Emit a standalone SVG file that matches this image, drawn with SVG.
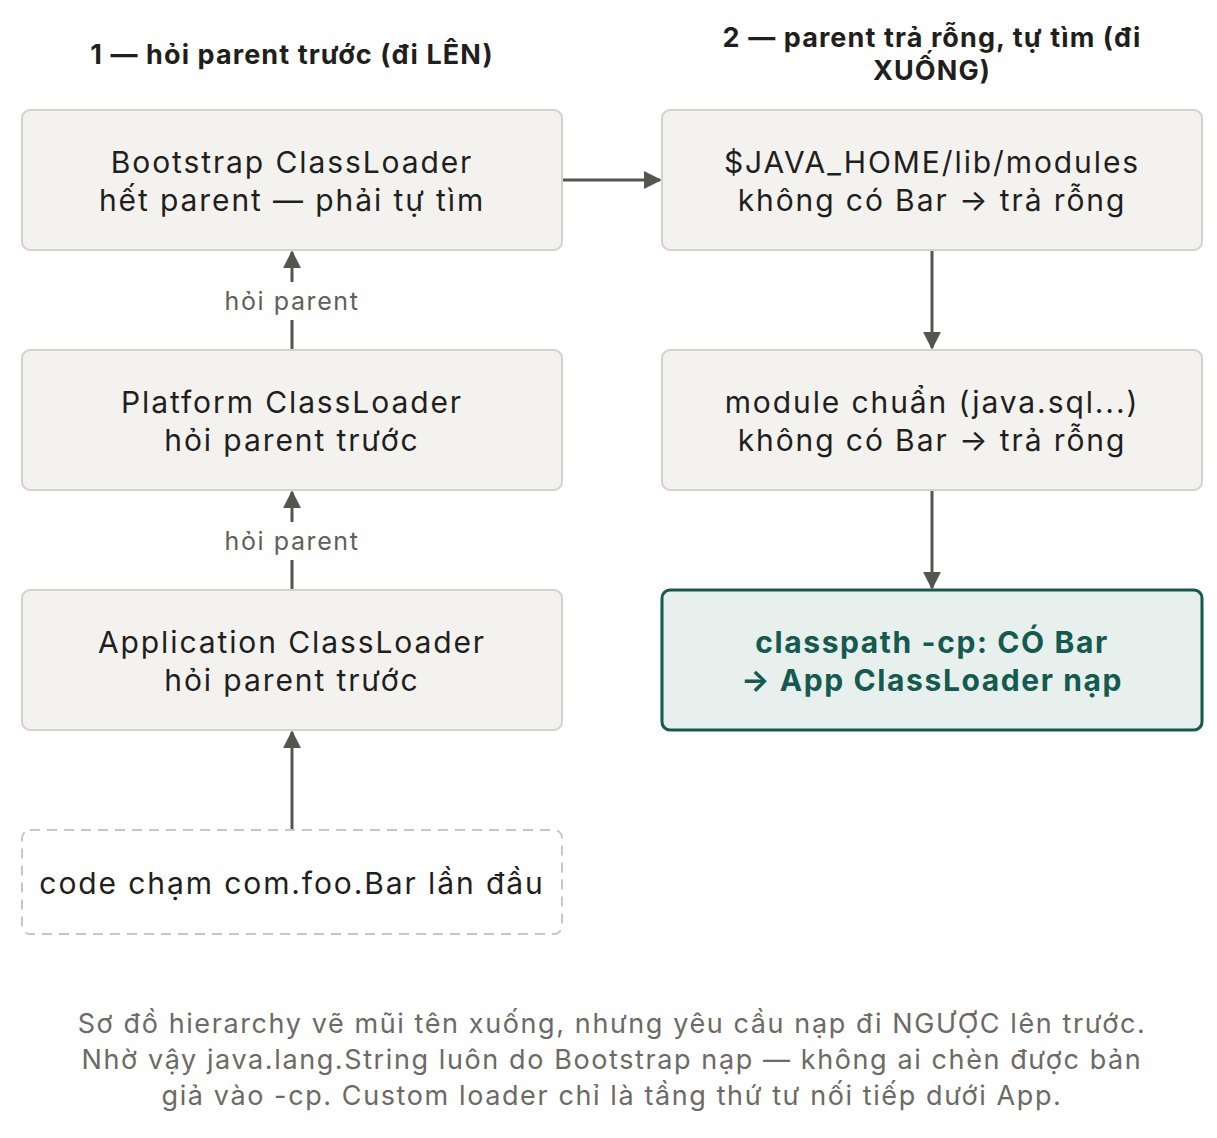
<svg xmlns="http://www.w3.org/2000/svg" width="1217" height="1138" viewBox="0 0 1217 1138">
<style>
.box{fill:#f3f2ee;stroke:#d2d1cc;stroke-width:2}
.t{font-family:Inter,"Noto Sans",sans-serif;font-size:30px;letter-spacing:1.9px;fill:#1f1f1d;text-anchor:middle}
.h{font-family:Inter,"Noto Sans",sans-serif;font-size:27px;letter-spacing:1.1px;font-weight:700;fill:#1f1f1d;text-anchor:middle}
.g{font-family:Inter,"Noto Sans",sans-serif;font-size:30px;letter-spacing:1.6px;font-weight:700;fill:#145a4e;text-anchor:middle}
.l{font-family:Inter,"Noto Sans",sans-serif;font-size:25px;letter-spacing:1.6px;fill:#5f5f5a;text-anchor:middle}
.c{font-family:Inter,"Noto Sans",sans-serif;font-size:27px;letter-spacing:1.6px;fill:#6b6a65;text-anchor:middle}
.e{stroke:#55554f;stroke-width:3;fill:none;marker-end:url(#a)}
</style>
<defs><marker id="a" viewBox="0 0 10 10" refX="9" refY="5" markerWidth="6" markerHeight="6" orient="auto"><path d="M0,0L10,5L0,10z" fill="#55554f"/></marker></defs>
<text class="h" x="292" y="64">1 — hỏi parent trước (đi LÊN)</text>
<text class="h" x="932" y="47">2 — parent trả rỗng, tự tìm (đi</text>
<text class="h" x="932" y="80">XUỐNG)</text>
<g id="connectors">
<path class="e" d="M563,180H660"/>
<path class="e" d="M932,250V348"/>
<path class="e" d="M932,490V588"/>
<path class="e" d="M292,350V320M292,282V252"/>
<path class="e" d="M292,590V560M292,522V492"/>
<path class="e" d="M292,830V732"/>
<text class="l" x="292" y="310">hỏi parent</text>
<text class="l" x="292" y="550">hỏi parent</text>
</g>
<g id="bootstrap"><rect class="box" x="22" y="110" width="540" height="140" rx="8"/><text class="t" x="292" y="173">Bootstrap ClassLoader</text><text class="t" x="292" y="211">hết parent — phải tự tìm</text></g>
<g id="platform"><rect class="box" x="22" y="350" width="540" height="140" rx="8"/><text class="t" x="292" y="413">Platform ClassLoader</text><text class="t" x="292" y="451">hỏi parent trước</text></g>
<g id="application"><rect class="box" x="22" y="590" width="540" height="140" rx="8"/><text class="t" x="292" y="653">Application ClassLoader</text><text class="t" x="292" y="691">hỏi parent trước</text></g>
<g id="code"><rect x="22" y="830" width="540" height="104" rx="8" fill="#fff" stroke="#c8c7c2" stroke-width="2" stroke-dasharray="10,7"/><text class="t" x="292" y="894">code chạm com.foo.Bar lần đầu</text></g>
<g id="javahome"><rect class="box" x="662" y="110" width="540" height="140" rx="8"/><text class="t" x="932" y="173">$JAVA_HOME/lib/modules</text><text class="t" x="932" y="211">không có Bar → trả rỗng</text></g>
<g id="module"><rect class="box" x="662" y="350" width="540" height="140" rx="8"/><text class="t" x="932" y="413">module chuẩn (java.sql...)</text><text class="t" x="932" y="451">không có Bar → trả rỗng</text></g>
<g id="classpath"><rect x="662" y="590" width="540" height="140" rx="8" fill="#e7f0ed" stroke="#145a4e" stroke-width="3"/><text class="g" x="932" y="653">classpath -cp: CÓ Bar</text><text class="g" x="932" y="691">→ App ClassLoader nạp</text></g>
<text class="c" x="612" y="1033">Sơ đồ hierarchy vẽ mũi tên xuống, nhưng yêu cầu nạp đi NGƯỢC lên trước.</text>
<text class="c" x="612" y="1069">Nhờ vậy java.lang.String luôn do Bootstrap nạp — không ai chèn được bản</text>
<text class="c" x="612" y="1105">giả vào -cp. Custom loader chỉ là tầng thứ tư nối tiếp dưới App.</text>
</svg>
